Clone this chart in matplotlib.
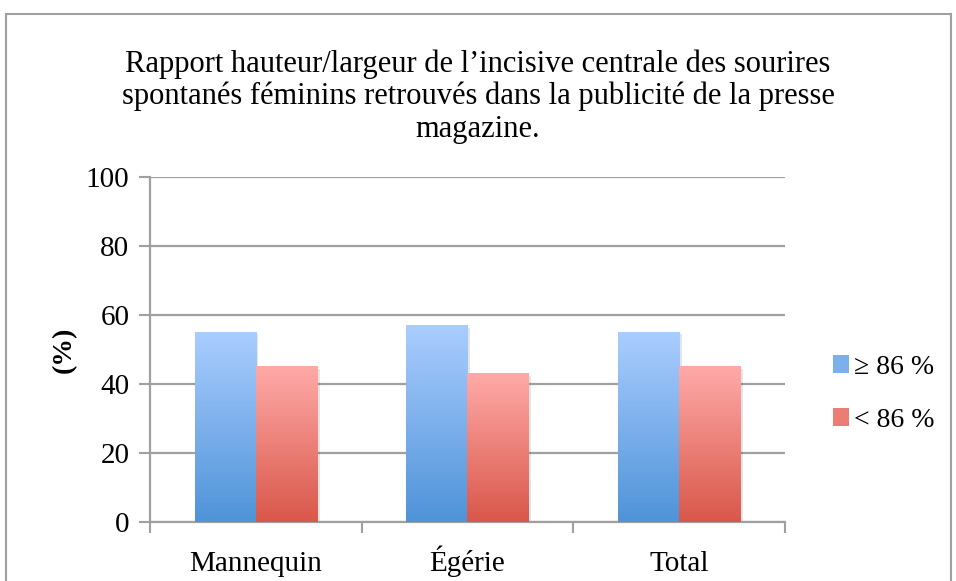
import numpy as np
import matplotlib
matplotlib.use("Agg")
import matplotlib.pyplot as plt
from matplotlib.colors import LinearSegmentedColormap
from matplotlib.patches import Rectangle, Patch

categories = ["Mannequin", "Égérie", "Total"]
sup86 = [55, 57, 55]
inf86 = [45, 43, 45]
labels = ["≥ 86 %", "< 86 %"]
title = ("Rapport hauteur/largeur de l’incisive centrale des sourires\n"
         "spontanés féminins retrouvés dans la publicité de la presse\n"
         "magazine.")

plt.rcParams['font.family'] = ['Liberation Serif', 'DejaVu Serif']

fig = plt.figure(figsize=(9.56, 5.81), dpi=100)
ax = fig.add_axes([0.157, 0.1015, 0.664, 0.5935])

# frame round the chart
fig.patches.append(Rectangle((0.006, -0.1), 0.989, 1.076, transform=fig.transFigure,
                             fill=False, edgecolor='#a0a0a0', linewidth=1.5))

blue_cmap = LinearSegmentedColormap.from_list("b", ["#4f93d8", "#aacdff"])
red_cmap = LinearSegmentedColormap.from_list("r", ["#d9574a", "#ffaaa8"])

x = np.arange(len(categories))
w = 0.29
b1 = ax.bar(x - w / 2, sup86, w, color='none', zorder=3)
b2 = ax.bar(x + w / 2, inf86, w, color='none', zorder=3)

grad = np.linspace(0, 1, 256).reshape(-1, 1)
for bars, cm in ((b1, blue_cmap), (b2, red_cmap)):
    for p in bars:
        x0, h, bw = p.get_x(), p.get_height(), p.get_width()
        # soft shadow
        ax.add_patch(Rectangle((x0 + 0.012, 0), bw, h - 0.6, color='#000000',
                               alpha=0.10, zorder=2, linewidth=0))
        ax.imshow(grad, extent=[x0, x0 + bw, 0, h], origin='lower', aspect='auto',
                  cmap=cm, zorder=3)

ax.set_xlim(-0.5, 2.5)
ax.set_ylim(0, 100)
ax.set_yticks([0, 20, 40, 60, 80, 100])
ax.set_xticks(x)
ax.set_xticklabels(categories, fontsize=21, va='baseline')
ax.set_xticks([-0.5, 0.5, 1.5, 2.5], minor=True)
ax.tick_params(axis='x', which='major', length=0, pad=35)
ax.tick_params(axis='x', which='minor', length=8, width=1.5, color='#a0a0a0', direction='out')
ax.tick_params(axis='y', length=8, width=1.5, color='#a0a0a0', labelsize=21, pad=7)

ax.grid(axis='y', color='#a0a0a0', linewidth=1.6, zorder=0)
ax.set_axisbelow(True)
for s in ['top', 'right']:
    ax.spines[s].set_visible(False)
for s in ['left', 'bottom']:
    ax.spines[s].set_color('#a0a0a0')
    ax.spines[s].set_linewidth(1.6)

ax.set_ylabel("(%)", fontsize=20, fontweight='bold', labelpad=6)

fig.text(0.5, 0.834, title, ha='center', va='center', fontsize=22, linespacing=1.15)

handles = [Patch(facecolor='#7cb0ec'), Patch(facecolor='#ec7d74')]
fig.legend(handles, labels, loc='center left', bbox_to_anchor=(0.871, 0.322),
           frameon=False, fontsize=20, handlelength=0.6, handleheight=0.6,
           handletextpad=0.15, labelspacing=1.0, borderpad=0, borderaxespad=0)

fig.savefig("out.png", dpi=100)
